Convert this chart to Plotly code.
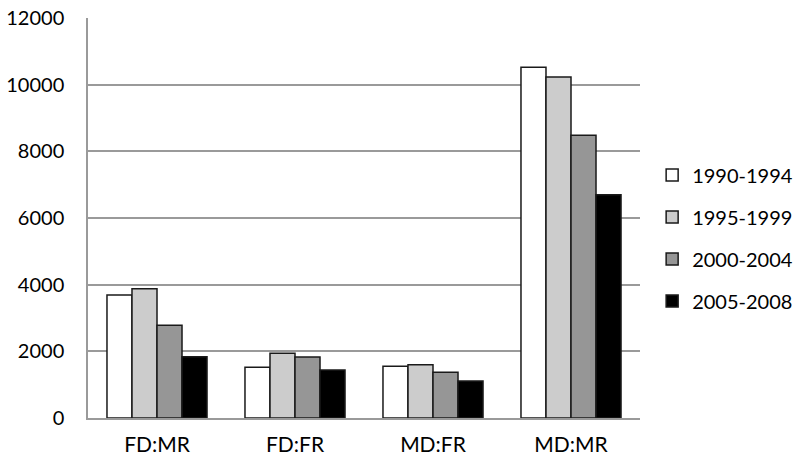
import plotly.graph_objects as go

categories = ["FD:MR", "FD:FR", "MD:FR", "MD:MR"]
series_names = ["1990-1994", "1995-1999", "2000-2004", "2005-2008"]
v_1990 = [3690, 1520, 1550, 10520]
v_1995 = [3880, 1940, 1600, 10230]
v_2000 = [2780, 1830, 1370, 8480]
v_2005 = [1840, 1440, 1110, 6700]
values = [v_1990, v_1995, v_2000, v_2005]
colors = ["#ffffff", "#cccccc", "#969696", "#000000"]

fig = go.Figure()
for name, vals, col in zip(series_names, values, colors):
    fig.add_trace(go.Bar(
        x=categories, y=vals, name=name, legendgroup=name,
        marker=dict(color=col, line=dict(color="#1a1a1a", width=1.5)),
    ))

FONT = "Lato, 'Open Sans', sans-serif"
fig.update_layout(
    width=800, height=473,
    margin=dict(l=88, r=160, t=18, b=55, autoexpand=False),
    paper_bgcolor="white", plot_bgcolor="white",
    barmode="group", bargap=0.275, bargroupgap=0,
    font=dict(family=FONT, size=20, color="#000000"),
    showlegend=True,
    legend=dict(x=1.022, xanchor="left", y=0.45, yanchor="middle",
                font=dict(size=20), tracegroupgap=13, traceorder="grouped",
                bgcolor="rgba(0,0,0,0)", itemwidth=30),
    xaxis=dict(showline=True, linecolor="#9a9a9a", linewidth=1.5,
               ticks="", showgrid=False, tickfont=dict(size=21),
               ticklabelstandoff=7, automargin=False),
    yaxis=dict(range=[0, 12000], dtick=2000, tickformat="d", showline=True,
               linecolor="#9a9a9a", linewidth=1.5, showgrid=True,
               gridcolor="#9a9a9a", gridwidth=1.5, ticks="",
               tickfont=dict(size=20), zeroline=False,
               ticklabelstandoff=18, automargin=False),
)
fig.write_html("out.html", config={"displayModeBar": False},
               post_script="document.body.style.margin='0';document.body.style.overflow='hidden';")
